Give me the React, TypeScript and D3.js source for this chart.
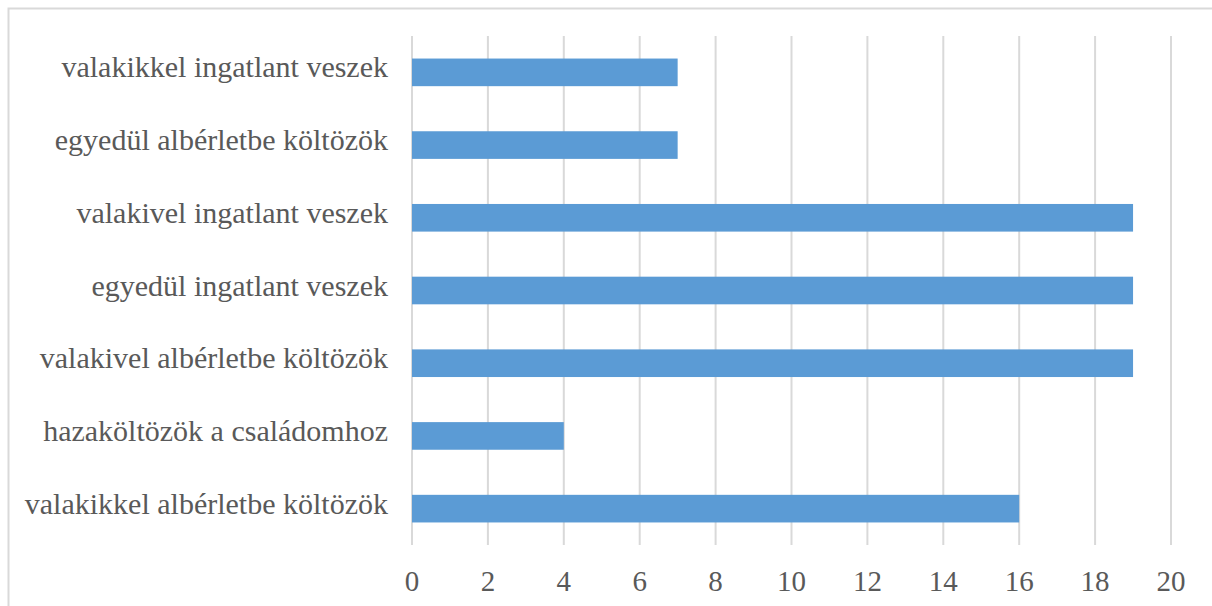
import React from "react";
import * as d3 from "d3";

const categories = [
  "valakikkel ingatlant veszek",
  "egyedül albérletbe költözök",
  "valakivel ingatlant veszek",
  "egyedül ingatlant veszek",
  "valakivel albérletbe költözök",
  "hazaköltözök a családomhoz",
  "valakikkel albérletbe költözök",
];
const values = [7, 7, 19, 19, 19, 4, 16];
const ticks = [0, 2, 4, 6, 8, 10, 12, 14, 16, 18, 20];

export default function App() {
  const W = 1212, H = 606;
  const x = d3.scaleLinear().domain([0, 20]).range([412, 1171]);
  const y = d3.scaleBand().domain(categories).range([36, 545]).paddingInner(0.62).paddingOuter(0.31);
  const font = "'Liberation Serif', 'Times New Roman', serif";
  return (
    <svg width={W} height={H} style={{ position: "absolute", left: 0, top: 0, background: "#fff" }}>
      <rect x={8.5} y={8.5} width={1240} height={640} fill="#fff" stroke="#d9d9d9" strokeWidth={2} />
      {ticks.map((t) => (
        <line key={t} x1={x(t)} x2={x(t)} y1={36} y2={545} stroke="#d9d9d9" strokeWidth={2} />
      ))}
      {categories.map((c, i) => (
        <rect key={c} x={x(0)} y={y(c)!} width={x(values[i]) - x(0)} height={y.bandwidth()} fill="#5b9bd5" />
      ))}
      {categories.map((c) => (
        <text key={c} x={388} y={y(c)! + y.bandwidth() / 2 + 5} textAnchor="end" fontFamily={font} fontSize={30} fill="#595959">
          {c}
        </text>
      ))}
      {ticks.map((t) => (
        <text key={t} x={x(t)} y={591} textAnchor="middle" fontFamily={font} fontSize={29} fill="#595959">
          {t}
        </text>
      ))}
    </svg>
  );
}
